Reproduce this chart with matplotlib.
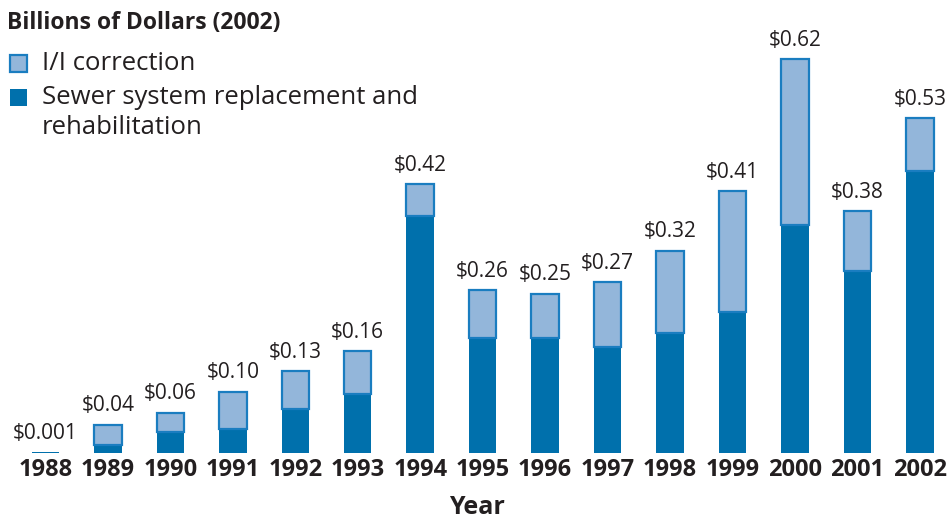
import matplotlib
matplotlib.use("Agg")
import matplotlib.pyplot as plt
from matplotlib.patches import Rectangle

# values (billions of 2002 dollars)
years = [1988, 1989, 1990, 1991, 1992, 1993, 1994, 1995,
         1996, 1997, 1998, 1999, 2000, 2001, 2002]
sewer = [0.001, 0.012, 0.032, 0.037, 0.069, 0.092, 0.373, 0.181,
         0.181, 0.166, 0.189, 0.221, 0.358, 0.286, 0.444]
ii_corr = [0.0, 0.032, 0.031, 0.059, 0.059, 0.068, 0.050, 0.075,
           0.069, 0.102, 0.129, 0.191, 0.262, 0.094, 0.083]
totals = ["$0.001", "$0.04", "$0.06", "$0.10", "$0.13", "$0.16", "$0.42", "$0.26",
          "$0.25", "$0.27", "$0.32", "$0.41", "$0.62", "$0.38", "$0.53"]

DARK = "#0070ac"
LIGHT = "#93b6da"
EDGE = "#1a7dc0"
TXT = "#231f20"

plt.rcParams["font.family"] = ["Open Sans", "DejaVu Sans"]

W, H = 948, 519
fig = plt.figure(figsize=(W / 100, H / 100), dpi=100)

base_px = 452.5          # baseline, px from top
px_per_unit = 634.7
step = 62.45
x0_px = 45.5
ax = fig.add_axes([0, (H - base_px) / H, 1, base_px / H])
ax.set_xlim(1988 - x0_px / step, 1988 + (W - x0_px) / step)
ax.set_ylim(0, base_px / px_per_unit)
ax.axis("off")

width = 0.44
ax.bar(years, sewer, width=width, color=DARK, linewidth=0)
ax.bar(years, ii_corr, bottom=sewer, width=width, color=LIGHT, edgecolor=EDGE,
       linewidth=[1.6 if v > 0 else 0 for v in ii_corr])

for x, s, i, lab in zip(years, sewer, ii_corr, totals):
    ax.annotate(lab, (x, s + i), xytext=(0, 6), textcoords="offset points",
                ha="center", va="bottom", fontsize=15, color=TXT)

# year labels under the bars
for x in years:
    ax.annotate(str(x), (x, 0), xytext=(0, -4), textcoords="offset points",
                ha="center", va="top", fontsize=17, fontweight="bold",
                color=TXT, annotation_clip=False)

fig.text(477 / W, 1 - 507 / H, "Year", ha="center", va="center",
         fontsize=18, fontweight="bold", color=TXT)

# title + legend
fig.text(7 / W, 1 - 23 / H, "Billions of Dollars (2002)", ha="left", va="center",
         fontsize=16.5, fontweight="bold", color=TXT)
fig.patches.append(Rectangle((10 / W, 1 - 72 / H), 17 / W, 17 / H,
                             transform=fig.transFigure, facecolor=LIGHT,
                             edgecolor=EDGE, linewidth=1.6))
fig.patches.append(Rectangle((10 / W, 1 - 106 / H), 17 / W, 17 / H,
                             transform=fig.transFigure, facecolor=DARK,
                             linewidth=0))
fig.text(42 / W, 1 - 64 / H, "I/I correction", ha="left", va="center",
         fontsize=18.5, color=TXT)
fig.text(42 / W, 1 - 97 / H, "Sewer system replacement and", ha="left",
         va="center", fontsize=18.5, color=TXT)
fig.text(42 / W, 1 - 127 / H, "rehabilitation", ha="left", va="center",
         fontsize=18.5, color=TXT)

fig.savefig("out.png", dpi=100)
